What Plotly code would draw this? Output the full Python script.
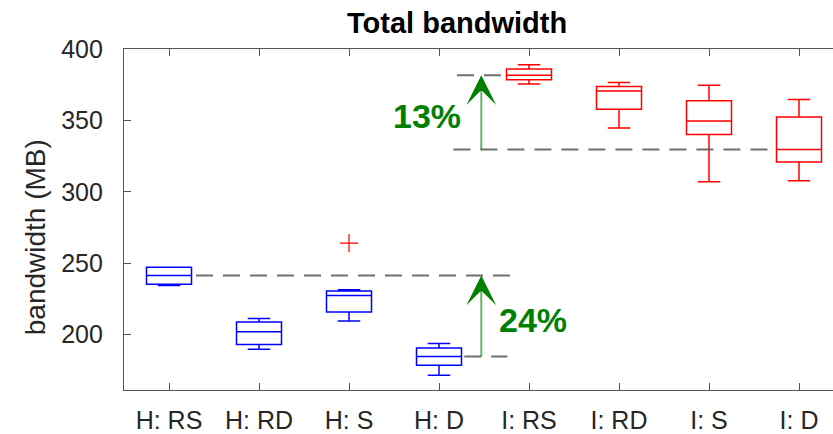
import plotly.graph_objects as go

# Bandwidth statistics per configuration (MB)
groups = ["H: RS", "H: RD", "H: S", "H: D", "I: RS", "I: RD", "I: S", "I: D"]
whisker_low = [234.4, 189.7, 209.6, 171.6, 375.5, 344.7, 307.1, 307.8]
q1 = [235.3, 193.1, 215.8, 178.5, 378.4, 357.8, 340.1, 320.9]
median = [241.3, 202.0, 227.3, 184.6, 381.6, 370.6, 349.5, 329.6]
q3 = [247.2, 208.9, 230.5, 190.6, 386.0, 373.8, 363.7, 352.3]
whisker_high = [247.2, 211.3, 231.4, 193.8, 389.0, 376.6, 374.7, 364.7]
outlier_group = ["H: S"]
outlier_value = [264.0]
gain_h = "24%"
gain_i = "13%"

pos = list(range(1, len(groups) + 1))
h_idx = [0, 1, 2, 3]
i_idx = [4, 5, 6, 7]

FONT = "Liberation Sans"
GREEN = "#008000"
DASH_COLOR = "rgba(95,95,95,0.9)"

fig = go.Figure()

for idx, color in ((h_idx, "#0000ff"), (i_idx, "#ff0000")):
    fig.add_trace(go.Box(
        x=[pos[k] for k in idx],
        lowerfence=[whisker_low[k] for k in idx],
        q1=[q1[k] for k in idx],
        median=[median[k] for k in idx],
        q3=[q3[k] for k in idx],
        upperfence=[whisker_high[k] for k in idx],
        width=0.5, whiskerwidth=0.5,
        fillcolor="white",
        line=dict(color=color, width=1.5),
        boxpoints=False, hoverinfo="skip", showlegend=False,
    ))

fig.add_trace(go.Scatter(
    x=[pos[groups.index(g)] for g in outlier_group], y=outlier_value,
    mode="markers",
    marker=dict(symbol="cross-thin", size=13, line=dict(color="#ff0000", width=1.2)),
    hoverinfo="skip", showlegend=False,
))


def ref_line(x0, x1, y):
    fig.add_trace(go.Scatter(
        x=[x0, x1], y=[y, y], mode="lines",
        line=dict(color=DASH_COLOR, width=2, dash="17px,10px"),
        hoverinfo="skip", showlegend=False,
    ))


def gain_arrow(xa, lo, hi):
    head_units = 9
    fig.add_trace(go.Scatter(
        x=[xa, xa], y=[lo, hi - head_units], mode="lines",
        line=dict(color="rgba(0,128,0,0.6)", width=2),
        hoverinfo="skip", showlegend=False,
    ))
    fig.add_annotation(
        x=xa, y=hi, ax=xa, ay=hi - head_units, xref="x", yref="y",
        axref="x", ayref="y", text="", showarrow=True,
        arrowhead=3, arrowsize=3.3, arrowwidth=1.5, arrowcolor=GREEN,
    )


arrow_x = 4.47

# H group: best (RS) vs worst (D)
ref_line(1.3, 4.79, median[0])
ref_line(4.28, 4.76, median[3])
gain_arrow(arrow_x, median[3], median[0])

# I group: best (RS) vs worst (D)
ref_line(4.2, 4.72, median[4])
ref_line(4.16, 7.7, median[7])
gain_arrow(arrow_x, median[7], median[4])

fig.add_annotation(
    x=arrow_x + 0.57, y=(median[0] + median[3]) / 2 - 2.8,
    xref="x", yref="y", text="<b>%s</b>" % gain_h, showarrow=False,
    font=dict(family=FONT, size=34, color=GREEN),
)
fig.add_annotation(
    x=arrow_x - 0.6, y=(median[4] + median[7]) / 2 - 2.3,
    xref="x", yref="y", text="<b>%s</b>" % gain_i, showarrow=False,
    font=dict(family=FONT, size=34, color=GREEN),
)

L, R, T, B, W, H = 124, 0, 49, 39, 833, 434
pw, ph = W - L - R, H - T - B

fig.add_annotation(
    x=(456.5 - L) / pw, y=(H - B - 23) / ph, xref="paper", yref="paper",
    text="<b>Total bandwidth</b>", showarrow=False,
    font=dict(family=FONT, size=29, color="black"),
    xanchor="center", yanchor="middle",
)
fig.add_annotation(
    x=(35 - L) / pw, y=(H - B - 240) / ph, xref="paper", yref="paper",
    text="bandwidth (MB)", textangle=-90, showarrow=False,
    font=dict(family=FONT, size=28, color="#262626"),
    xanchor="center", yanchor="middle",
)

axis_color = "#555555"
fig.update_layout(
    width=W, height=H,
    margin=dict(l=L, r=R, t=T, b=B, pad=0),
    plot_bgcolor="white", paper_bgcolor="white",
    showlegend=False,
    xaxis=dict(
        range=[0.5, 0.5 + pw / 90.0],
        tickvals=pos, ticktext=groups,
        ticks="inside", ticklen=7, tickwidth=1, tickcolor=axis_color,
        showline=True, linecolor=axis_color, linewidth=1.2, mirror="ticks",
        showgrid=False, zeroline=False,
        tickfont=dict(family=FONT, size=25, color="#262626"),
        ticklabelstandoff=8,
    ),
    yaxis=dict(
        range=[161.2, 400],
        tickvals=[200, 250, 300, 350, 400],
        ticks="inside", ticklen=7, tickwidth=1, tickcolor=axis_color,
        showline=True, linecolor=axis_color, linewidth=1.2, mirror=False,
        showgrid=False, zeroline=False,
        tickfont=dict(family=FONT, size=25, color="#262626"),
        ticklabelstandoff=15,
    ),
)

fig.write_html("out.html")
